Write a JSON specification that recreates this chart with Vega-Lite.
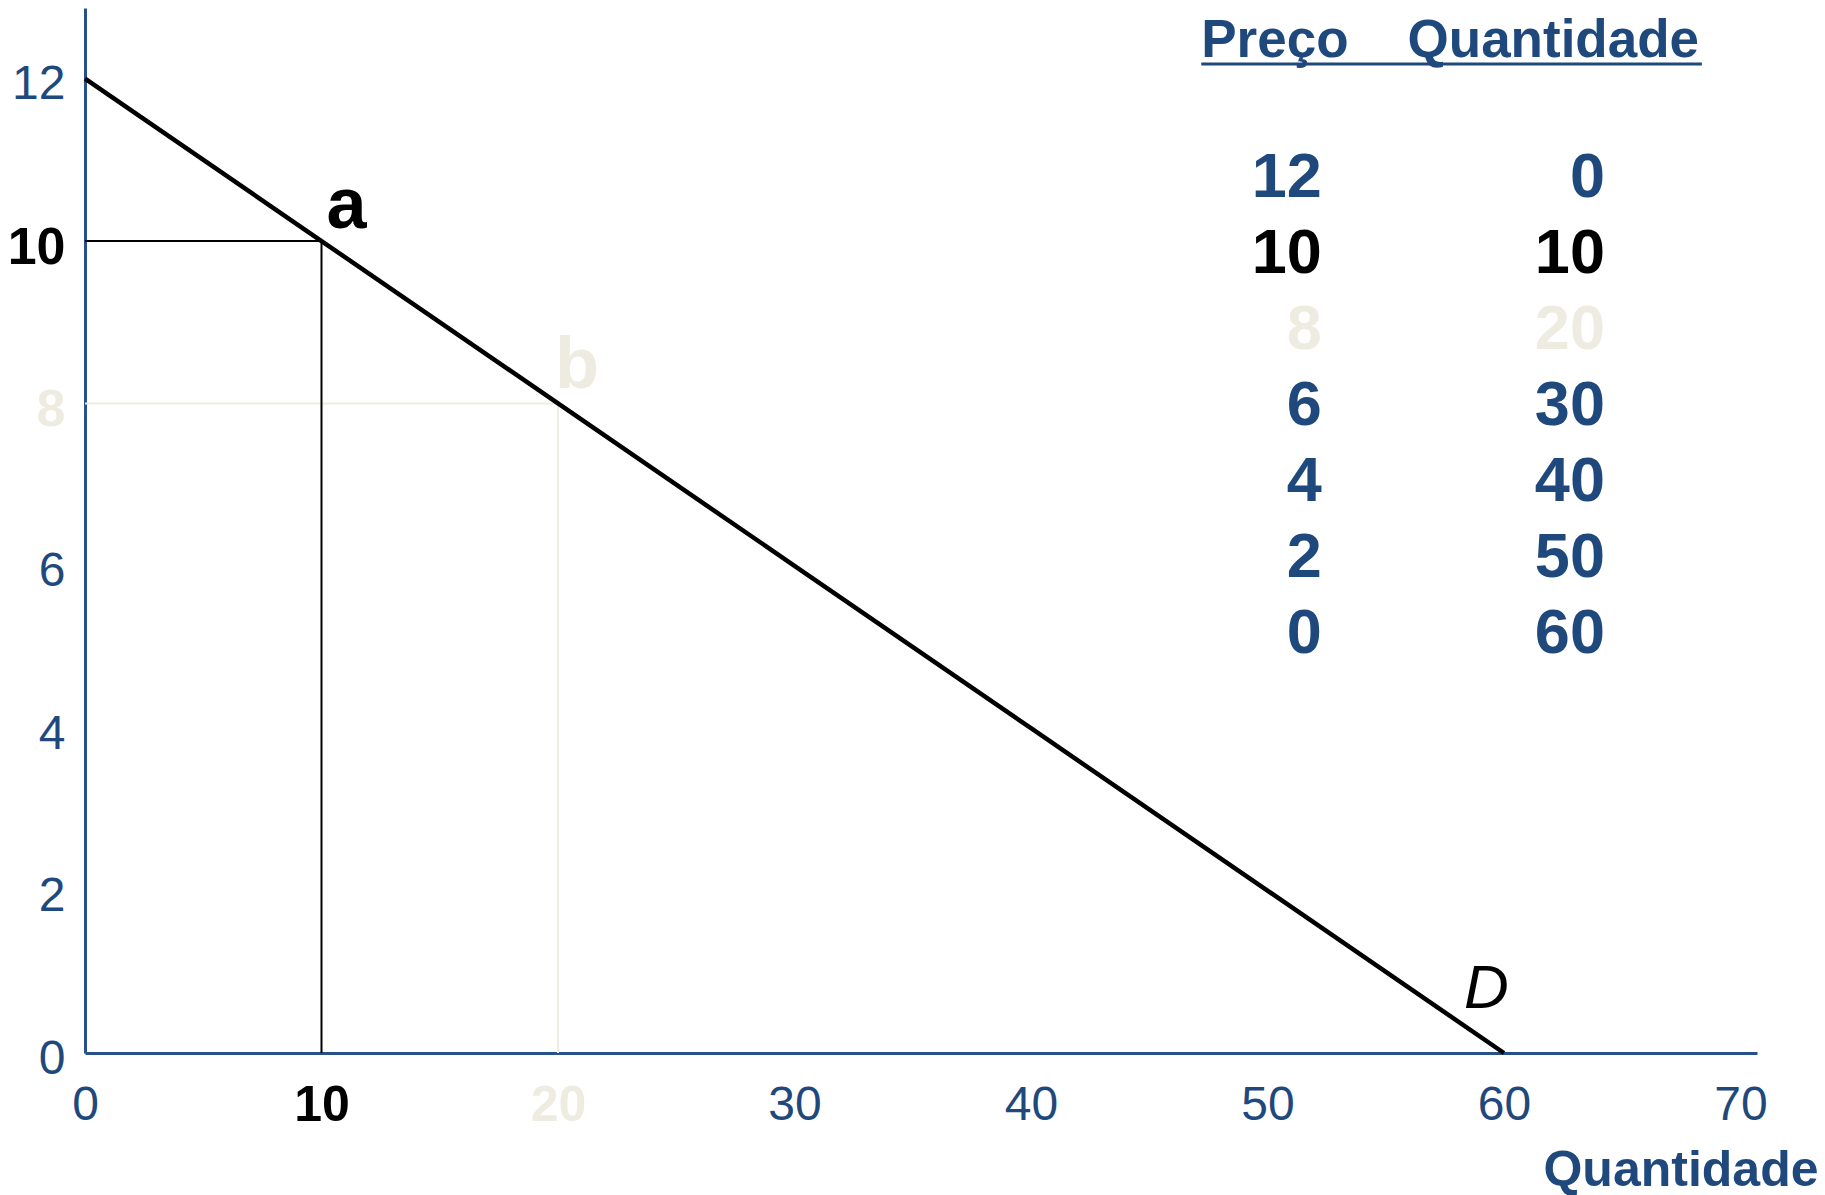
{
  "$schema": "https://vega.github.io/schema/vega-lite/v6.json",
  "width": 1672,
  "height": 1045,
  "autosize": {"type": "none"},
  "padding": {"left": 85, "top": 8, "right": 68, "bottom": 142},
  "background": "white",
  "config": {"view": {"stroke": null}, "font": "Liberation Sans"},
  "datasets": {
    "schedule": [
      {"preco": 12, "quantidade": 0},
      {"preco": 10, "quantidade": 10},
      {"preco": 8, "quantidade": 20},
      {"preco": 6, "quantidade": 30},
      {"preco": 4, "quantidade": 40},
      {"preco": 2, "quantidade": 50},
      {"preco": 0, "quantidade": 60}
    ],
    "points": [
      {"ponto": "a", "preco": 10, "quantidade": 10},
      {"ponto": "b", "preco": 8, "quantidade": 20}
    ]
  },
  "layer": [
    {
      "layer": [
        {
          "data": {"name": "points"},
          "mark": {"type": "rule", "strokeWidth": 2},
          "encoding": {
            "x": {"field": "quantidade", "type": "quantitative", "scale": {"domain": [0, 70.7], "nice": false, "zero": false}},
            "x2": {"datum": 0},
            "y": {"field": "preco", "type": "quantitative", "scale": {"domain": [0, 12.87], "nice": false, "zero": false}},
            "color": {"condition": {"test": "datum.ponto == 'a'", "value": "#000000"}, "value": "#EEECE1"}
          }
        },
        {
          "data": {"name": "points"},
          "mark": {"type": "rule", "strokeWidth": 2},
          "encoding": {
            "x": {"field": "quantidade", "type": "quantitative", "scale": {"domain": [0, 70.7], "nice": false, "zero": false}},
            "y": {"field": "preco", "type": "quantitative", "scale": {"domain": [0, 12.87], "nice": false, "zero": false}},
            "y2": {"datum": 0},
            "color": {"condition": {"test": "datum.ponto == 'a'", "value": "#000000"}, "value": "#EEECE1"}
          }
        },
        {
          "data": {"name": "schedule"},
          "mark": {"type": "line", "color": "#000000", "strokeWidth": 4.5},
          "encoding": {
            "x": {
              "field": "quantidade",
              "type": "quantitative",
              "scale": {"domain": [0, 70.7], "nice": false, "zero": false},
              "axis": {
                "values": [0, 10, 20, 30, 40, 50, 60, 70],
                "format": "d",
                "ticks": false,
                "tickSize": 0,
                "grid": false,
                "domainColor": "#27518A",
                "domainWidth": 3,
                "labelFont": "Liberation Sans",
                "labelFontSize": {"expr": "datum.value == 10 || datum.value == 20 ? 50 : 48"},
                "labelColor": {"expr": "datum.value == 10 ? '#000000' : datum.value == 20 ? '#EEECE1' : '#1F497D'"},
                "labelFontWeight": {"expr": "datum.value == 10 || datum.value == 20 ? 'bold' : 'normal'"},
                "labelBaseline": "middle",
                "labelPadding": 52,
                "labelFlush": false,
                "labelOverlap": false,
                "title": "Quantidade",
                "titleFont": "Liberation Sans",
                "titleFontSize": 50,
                "titleFontWeight": "bold",
                "titleColor": "#1F497D",
                "titleAlign": "right",
                "titleBaseline": "middle",
                "titleX": 1733,
                "titleY": 117
              }
            },
            "y": {
              "field": "preco",
              "type": "quantitative",
              "scale": {"domain": [0, 12.87], "nice": false, "zero": false},
              "axis": {
                "values": [0, 2, 4, 6, 8, 10, 12],
                "format": "d",
                "ticks": false,
                "tickSize": 0,
                "grid": false,
                "domainColor": "#27518A",
                "domainWidth": 3,
                "labelFont": "Liberation Sans",
                "labelFontSize": {"expr": "datum.value == 10 || datum.value == 8 ? 52 : 48"},
                "labelColor": {"expr": "datum.value == 10 ? '#000000' : datum.value == 8 ? '#EEECE1' : '#1F497D'"},
                "labelFontWeight": {"expr": "datum.value == 10 || datum.value == 8 ? 'bold' : 'normal'"},
                "labelBaseline": "middle",
                "labelOffset": 6,
                "labelPadding": 20,
                "labelFlush": false,
                "labelOverlap": false,
                "title": null
              }
            }
          }
        },
        {
          "data": {"name": "points"},
          "transform": [{"filter": "datum.ponto == 'a'"}],
          "mark": {"type": "text", "align": "left", "baseline": "alphabetic", "fontSize": 72, "fontWeight": "bold", "color": "#000000", "dx": 5, "dy": -13},
          "encoding": {
            "x": {"field": "quantidade", "type": "quantitative", "scale": {"domain": [0, 70.7], "nice": false, "zero": false}},
            "y": {"field": "preco", "type": "quantitative", "scale": {"domain": [0, 12.87], "nice": false, "zero": false}},
            "text": {"field": "ponto", "type": "nominal"}
          }
        },
        {
          "data": {"name": "points"},
          "transform": [{"filter": "datum.ponto == 'b'"}],
          "mark": {"type": "text", "align": "left", "baseline": "alphabetic", "fontSize": 72, "fontWeight": "bold", "color": "#EEECE1", "dx": -3, "dy": -15},
          "encoding": {
            "x": {"field": "quantidade", "type": "quantitative", "scale": {"domain": [0, 70.7], "nice": false, "zero": false}},
            "y": {"field": "preco", "type": "quantitative", "scale": {"domain": [0, 12.87], "nice": false, "zero": false}},
            "text": {"field": "ponto", "type": "nominal"}
          }
        },
        {
          "data": {"values": [{"curva": "D"}]},
          "mark": {"type": "text", "align": "left", "baseline": "alphabetic", "fontSize": 62, "fontStyle": "italic", "color": "#000000", "dx": -40, "dy": -45},
          "encoding": {
            "x": {"datum": 60, "type": "quantitative", "scale": {"domain": [0, 70.7], "nice": false, "zero": false}},
            "y": {"datum": 0, "type": "quantitative", "scale": {"domain": [0, 12.87], "nice": false, "zero": false}},
            "text": {"field": "curva", "type": "nominal"}
          }
        },
        {
          "data": {"values": [{"cabecalho": "Preço"}]},
          "mark": {"type": "text", "align": "left", "baseline": "middle", "fontSize": 53, "fontWeight": "bold", "color": "#1F497D"},
          "encoding": {
            "x": {"datum": 47.2, "type": "quantitative", "scale": {"domain": [0, 70.7], "nice": false, "zero": false}},
            "y": {"datum": 12.46, "type": "quantitative", "scale": {"domain": [0, 12.87], "nice": false, "zero": false}},
            "text": {"field": "cabecalho", "type": "nominal"}
          }
        },
        {
          "data": {"values": [{"cabecalho": "Quantidade"}]},
          "mark": {"type": "text", "align": "right", "baseline": "middle", "fontSize": 53, "fontWeight": "bold", "color": "#1F497D"},
          "encoding": {
            "x": {"datum": 68.25, "type": "quantitative", "scale": {"domain": [0, 70.7], "nice": false, "zero": false}},
            "y": {"datum": 12.46, "type": "quantitative", "scale": {"domain": [0, 12.87], "nice": false, "zero": false}},
            "text": {"field": "cabecalho", "type": "nominal"}
          }
        },
        {
          "data": {"values": [{"sublinhado": 1}]},
          "mark": {"type": "rule", "strokeWidth": 3, "color": "#1F497D"},
          "encoding": {
            "x": {"datum": 47.2, "type": "quantitative", "scale": {"domain": [0, 70.7], "nice": false, "zero": false}},
            "x2": {"datum": 68.37},
            "y": {"datum": 12.18, "type": "quantitative", "scale": {"domain": [0, 12.87], "nice": false, "zero": false}}
          }
        }
      ]
    },
    {
      "data": {"name": "schedule"},
      "encoding": {
        "y": {"field": "preco", "type": "quantitative", "scale": {"domain": [-11.02, 16.46], "nice": false, "zero": false}, "axis": null},
        "color": {
          "condition": [
            {"test": "datum.preco == 10", "value": "#000000"},
            {"test": "datum.preco == 8", "value": "#EEECE1"}
          ],
          "value": "#1F497D"
        }
      },
      "layer": [
        {
          "mark": {"type": "text", "align": "right", "baseline": "middle", "fontSize": 63, "fontWeight": "bold"},
          "encoding": {
            "x": {"datum": 52.3, "type": "quantitative", "scale": {"domain": [0, 70.7], "nice": false, "zero": false}},
            "text": {"field": "preco", "type": "quantitative"}
          }
        },
        {
          "mark": {"type": "text", "align": "right", "baseline": "middle", "fontSize": 63, "fontWeight": "bold"},
          "encoding": {
            "x": {"datum": 64.27, "type": "quantitative", "scale": {"domain": [0, 70.7], "nice": false, "zero": false}},
            "text": {"field": "quantidade", "type": "quantitative"}
          }
        }
      ]
    }
  ],
  "resolve": {"scale": {"y": "independent"}}
}
